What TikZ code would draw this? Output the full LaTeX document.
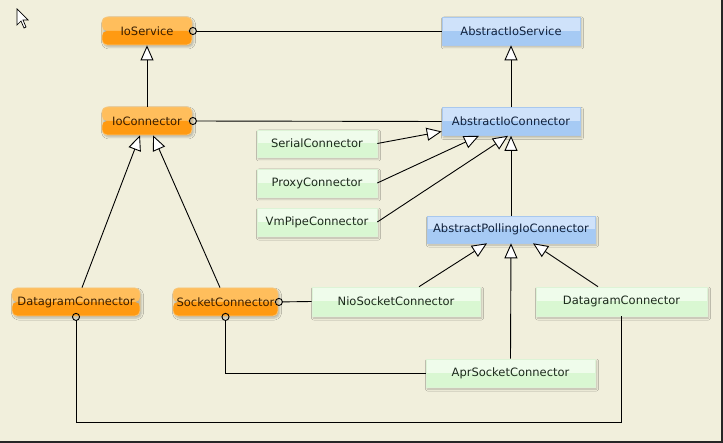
\documentclass[tikz,border=0pt]{standalone}
\usepackage{fontspec}
\newfontfamily\umlfont{DejaVu Sans}
\usetikzlibrary{arrows.meta,shadows.blur}
\definecolor{bg}{HTML}{F1EFDC}
\definecolor{otop}{HTML}{FFBE5C}
\definecolor{obot}{HTML}{FF9A12}
\definecolor{oborder}{HTML}{F7C67A}
\definecolor{obrown}{HTML}{3A1E00}
\definecolor{btop}{HTML}{CFE2FA}
\definecolor{bbot}{HTML}{A6CAF4}
\definecolor{bborder}{HTML}{A9C8EE}
\definecolor{bnavy}{HTML}{10213C}
\definecolor{gtop}{HTML}{EFFCEB}
\definecolor{gbot}{HTML}{D9F7D2}
\definecolor{gborder}{HTML}{DDF3D6}
\definecolor{gdark}{HTML}{1C2A1C}
\begin{document}
\begin{tikzpicture}[x=1pt,y=-1pt,
  box/.style={inner sep=0pt, minimum height=28pt, font=\umlfont\fontsize{11.5}{13}\selectfont,
    blur shadow={shadow xshift=1.5pt,shadow yshift=-2pt,shadow blur radius=2pt,shadow opacity=25}},
  twotone/.style n args={2}{path picture={
    \fill[#1] (path picture bounding box.north west) rectangle (path picture bounding box.east);
    \fill[#2] (path picture bounding box.west) rectangle (path picture bounding box.south east);}},
  obox/.style={box, rounded corners=5pt, draw=oborder, line width=0.8pt, twotone={otop}{obot}, text=obrown},
  bbox/.style={box, draw=bborder, line width=0.6pt, twotone={btop}{bbot}, text=bnavy},
  gbox/.style={box, draw=gborder, line width=0.6pt, twotone={gtop}{gbot}, text=gdark},
  inh/.style={-{Triangle[length=15pt,width=13pt,fill=white]}, line width=0.9pt},
  lolli/.style={{Circle[open,length=8pt,width=8pt]}-, line width=0.9pt},
]
\useasboundingbox (0,0) rectangle (723,443);
\fill[bg] (0,0) rectangle (723,443);

% cursor
\draw[fill=white, line width=0.7pt, line join=miter] (17,9) -- (17,25) -- (21,21) -- (24,28) -- (26,27) -- (23,20) -- (28,20) -- cycle;

% nodes
\node[obox, minimum width=90pt]  (ios)    at (147,31)    {IoService};
\node[bbox, minimum width=138pt] (ais)    at (511,31)    {AbstractIoService};
\node[obox, minimum width=90pt]  (ioc)    at (147,121)   {IoConnector};
\node[bbox, minimum width=138pt] (aic)    at (511,121.5) {AbstractIoConnector};
\node[gbox, minimum width=120pt, minimum height=27pt] (serial) at (317,143.5) {SerialConnector};
\node[gbox, minimum width=120pt] (proxy)  at (317,183)   {ProxyConnector};
\node[gbox, minimum width=120pt] (vmpipe) at (317,222)   {VmPipeConnector};
\node[bbox, minimum width=168pt, minimum height=27pt] (apc) at (511,229.5) {AbstractPollingIoConnector};
\node[obox, minimum width=128pt] (dgo)    at (76,302)    {DatagramConnector};
\node[obox, minimum width=105pt] (sock)   at (225.5,302) {SocketConnector};
\node[gbox, minimum width=168pt, minimum height=29pt] (nio) at (396,301.5) {NioSocketConnector};
\node[gbox, minimum width=171pt, minimum height=29pt] (dgg) at (621.5,301.5) {DatagramConnector};
\node[gbox, minimum width=169pt] (apr)    at (510.5,373) {AprSocketConnector};

% connectors
\draw[lolli] ([xshift=-3.5pt]ios.east) -- (ais.west);
\draw[lolli] ([xshift=-3.5pt]ioc.east) -- (aic.west);
\draw[inh] (ioc.north) -- (ios.south);
\draw[inh] (aic.north) -- (ais.south);
\draw[inh] ([xshift=6pt]dgo.north) -- ([xshift=-7pt]ioc.south);
\draw[inh] ([xshift=-5.5pt]sock.north) -- ([xshift=6pt]ioc.south);
\draw[inh] (serial.east) -- ([yshift=-10pt]aic.west);
\draw[inh] (proxy.east) -- ([xshift=-32pt]aic.south);
\draw[inh] (vmpipe.east) -- ([xshift=-3pt]aic.south);
\draw[inh] (apc.north) -- (aic.south);
\draw[inh] ([xshift=23pt]nio.north) -- ([xshift=-24pt]apc.south);
\draw[inh] (apr.north) -- (apc.south);
\draw[inh] ([xshift=-23.5pt]dgg.north) -- ([xshift=22pt]apc.south);
\draw[lolli] ([xshift=-3.5pt]sock.east) -- (nio.west);
\draw[lolli] ([yshift=3.5pt]sock.south) |- (apr.west);
\coordinate (low) at (0,422);
\draw[lolli] ([yshift=3.5pt]dgo.south) -- (dgo.south |- low) -- (dgg.south |- low) -- (dgg.south);

% frame edges
\draw[line width=1.6pt, black!85] (0,441.8) -- (721.8,441.8) -- (721.8,0);
\end{tikzpicture}
\end{document}
